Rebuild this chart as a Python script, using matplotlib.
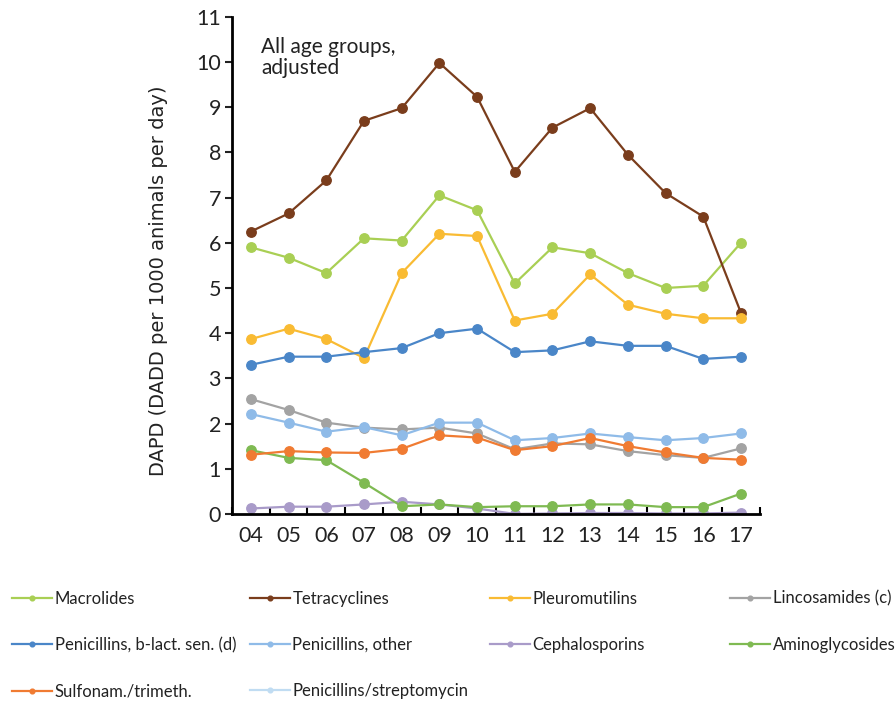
import numpy as np
from matplotlib import pyplot as plt

plt.rcParams['font.family'] = ['Lato', 'DejaVu Sans']

years = ["04", "05", "06", "07", "08", "09", "10", "11", "12", "13", "14", "15", "16", "17"]

macrolides = [5.9, 5.67, 5.33, 6.1, 6.05, 7.05, 6.72, 5.1, 5.9, 5.77, 5.33, 5.0, 5.05, 6.0]
tetracyclines = [6.25, 6.65, 7.38, 8.7, 8.98, 9.98, 9.23, 7.57, 8.55, 8.98, 7.95, 7.1, 6.58, 4.45]
pleuromutilins = [3.87, 4.1, 3.87, 3.45, 5.33, 6.2, 6.15, 4.28, 4.43, 5.3, 4.63, 4.43, 4.33, 4.33]
lincosamides = [2.54, 2.3, 2.02, 1.91, 1.87, 1.91, 1.78, 1.43, 1.56, 1.54, 1.39, 1.3, 1.24, 1.45]
pen_blact = [3.3, 3.48, 3.48, 3.58, 3.67, 4.0, 4.1, 3.58, 3.62, 3.82, 3.72, 3.72, 3.43, 3.48]
pen_other = [2.21, 2.02, 1.82, 1.92, 1.74, 2.02, 2.02, 1.63, 1.68, 1.78, 1.7, 1.63, 1.68, 1.78]
cephalosporins = [0.12, 0.16, 0.16, 0.21, 0.27, 0.21, 0.12, 0.0, 0.01, 0.02, 0.02, 0.01, 0.01, 0.03]
aminoglycosides = [1.41, 1.24, 1.19, 0.69, 0.17, 0.21, 0.15, 0.17, 0.17, 0.21, 0.21, 0.15, 0.15, 0.45]
sulfonam = [1.31, 1.39, 1.36, 1.35, 1.44, 1.74, 1.69, 1.41, 1.5, 1.68, 1.5, 1.36, 1.24, 1.2]
pen_strep = [np.nan] * 14  # not visible in this panel

series = [
    ("Macrolides", macrolides, "#a9cf54"),
    ("Tetracyclines", tetracyclines, "#7a3d1c"),
    ("Pleuromutilins", pleuromutilins, "#f9bb33"),
    ("Lincosamides (c)", lincosamides, "#a3a3a3"),
    ("Penicillins, b-lact. sen. (d)", pen_blact, "#4a86c8"),
    ("Penicillins, other", pen_other, "#8fbbe8"),
    ("Cephalosporins", cephalosporins, "#a99bc9"),
    ("Aminoglycosides", aminoglycosides, "#7fba52"),
    ("Sulfonam./trimeth.", sulfonam, "#f07b32"),
    ("Penicillins/streptomycin", pen_strep, "#c0dcf2"),
]

fig = plt.figure(figsize=(8.96, 7.04), dpi=100)
ax = fig.add_axes([0.259, 0.270, 0.589, 0.706])

x = np.arange(len(years))
lines = []
for name, vals, col in series:
    ln, = ax.plot(x, vals, color=col, lw=1.6, marker="o", ms=6.8, label=name)
    lines.append(ln)

ax.set_xlim(-0.5, len(years) - 0.5)
ax.set_ylim(0, 11)
ax.set_yticks(range(0, 12))
ax.set_xticks(x)
ax.set_xticklabels(years)
ax.set_xticks(np.arange(-0.5, len(years), 1.0), minor=True)
ax.tick_params(axis="x", which="major", length=0, labelsize=15.5, pad=9, colors="#222222")
ax.tick_params(axis="x", which="minor", direction="in", length=5, width=1.5)
ax.tick_params(axis="y", length=5, width=1.5, labelsize=15.5, pad=3, colors="#222222")
for s in ["top", "right"]:
    ax.spines[s].set_visible(False)
for s in ["left", "bottom"]:
    ax.spines[s].set_linewidth(2)

ax.set_ylabel("DAPD (DADD per 1000 animals per day)", fontsize=14,
              family=['DejaVu Sans'], color="#222222")
ax.yaxis.set_label_coords(-0.122, 0.47)
ax.text(0.055, 0.96, "All age groups,\nadjusted", transform=ax.transAxes,
        fontsize=15, va="top", ha="left", color="#222222", linespacing=1.05)

# legend: four columns placed by hand
col_x = [0.0134, 0.279, 0.547, 0.815]
for c in range(4):
    hs = lines[c::4]
    leg = fig.legend(hs, [h.get_label() for h in hs], loc="upper left",
                     bbox_to_anchor=(col_x[c], 0.161), frameon=False,
                     fontsize=12, handlelength=2.4, handletextpad=0.15,
                     labelspacing=1.82, markerscale=0.5, borderaxespad=0,
                     borderpad=0)
    for t in leg.get_texts():
        t.set_color("#222222")

fig.savefig("out.png", dpi=100)
